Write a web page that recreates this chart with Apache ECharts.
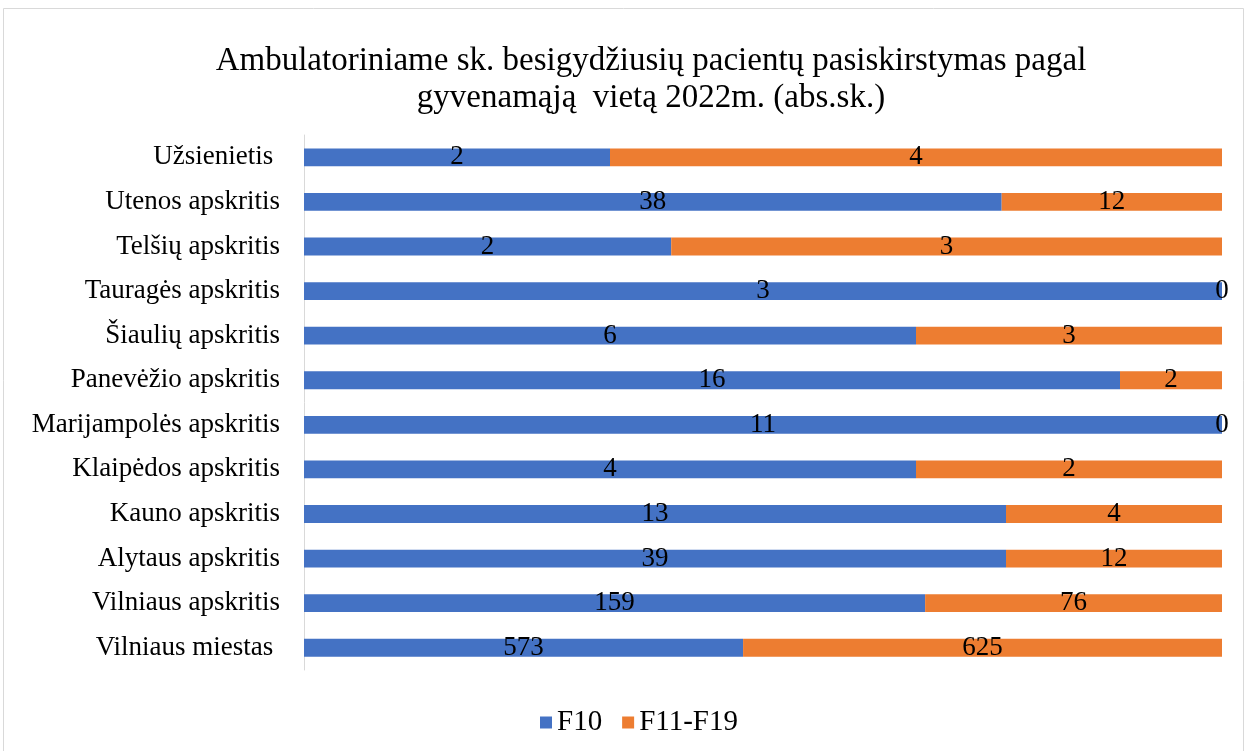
<!DOCTYPE html>
<html>
<head>
<meta charset="utf-8">
<script src="https://cdn.jsdelivr.net/npm/echarts@6/dist/echarts.min.js"></script>
<style>
  html, body { margin: 0; padding: 0; background: #fff; }
  #chart { width: 1247px; height: 751px; }
</style>
</head>
<body>
<div id="chart"></div>
<script>
// duomenys (iš viršaus į apačią)
const categories = [
  'Užsienietis ', 'Utenos apskritis', 'Telšių apskritis', 'Tauragės apskritis',
  'Šiaulių apskritis', 'Panevėžio apskritis', 'Marijampolės apskritis',
  'Klaipėdos apskritis', 'Kauno apskritis', 'Alytaus apskritis',
  'Vilniaus apskritis', 'Vilniaus miestas '
];
const f10 = [2, 38, 2, 3, 6, 16, 11, 4, 13, 39, 159, 573];
const f11f19 = [4, 12, 3, 0, 3, 2, 0, 2, 4, 12, 76, 625];

const font = '"Liberation Serif", "Times New Roman", serif';

// 100 % sukrauta juosta: procentai piešimui, etiketėse – absoliutūs skaičiai
function share(arr) {
  return arr.map((v, i) => {
    const total = f10[i] + f11f19[i];
    return { value: total ? v / total * 100 : 0, raw: v };
  });
}

const myChart = echarts.init(document.getElementById('chart'));

const labelOpt = {
  show: true,
  position: 'inside',
  color: '#000',
  fontFamily: font,
  fontSize: 27,
  formatter: p => p.data.raw
};

const option = {
  animation: false,
  backgroundColor: '#fff',
  graphic: [{
    type: 'rect',
    shape: { x: 3.5, y: 8.5, width: 1240, height: 760 },
    style: { fill: 'none', stroke: '#d9d9d9', lineWidth: 1 },
    silent: true
  }],
  title: {
    text: 'Ambulatoriniame sk. besigydžiusių pacientų pasiskirstymas pagal\ngyvenamąją  vietą 2022m. (abs.sk.)',
    left: 646,
    textAlign: 'center',
    top: 38,
    textStyle: {
      fontFamily: font,
      fontWeight: 'normal',
      fontSize: 33,
      lineHeight: 37,
      color: '#000'
    }
  },
  legend: {
    top: 703,
    left: 535,
    itemWidth: 12,
    itemHeight: 12,
    itemGap: 20,
    icon: 'rect',
    textStyle: { fontFamily: font, fontSize: 29, color: '#000' },
    data: ['F10', 'F11-F19']
  },
  grid: {
    left: 304,
    right: 25,
    top: 135,
    bottom: 81,
    containLabel: false
  },
  xAxis: {
    type: 'value',
    min: 0,
    max: 100,
    show: false
  },
  yAxis: {
    type: 'category',
    inverse: true,
    data: categories,
    axisLine: { show: true, lineStyle: { color: '#d9d9d9', width: 1 } },
    axisTick: { show: false },
    axisLabel: {
      margin: 24,
      fontFamily: font,
      fontSize: 27,
      color: '#000'
    }
  },
  series: [
    {
      name: 'F10',
      type: 'bar',
      stack: 'total',
      barWidth: '40%',
      itemStyle: { color: '#4472C4' },
      label: labelOpt,
      data: share(f10)
    },
    {
      name: 'F11-F19',
      type: 'bar',
      stack: 'total',
      barWidth: '40%',
      itemStyle: { color: '#ED7D31' },
      label: labelOpt,
      data: share(f11f19)
    }
  ]
};

myChart.setOption(option);
</script>
</body>
</html>
